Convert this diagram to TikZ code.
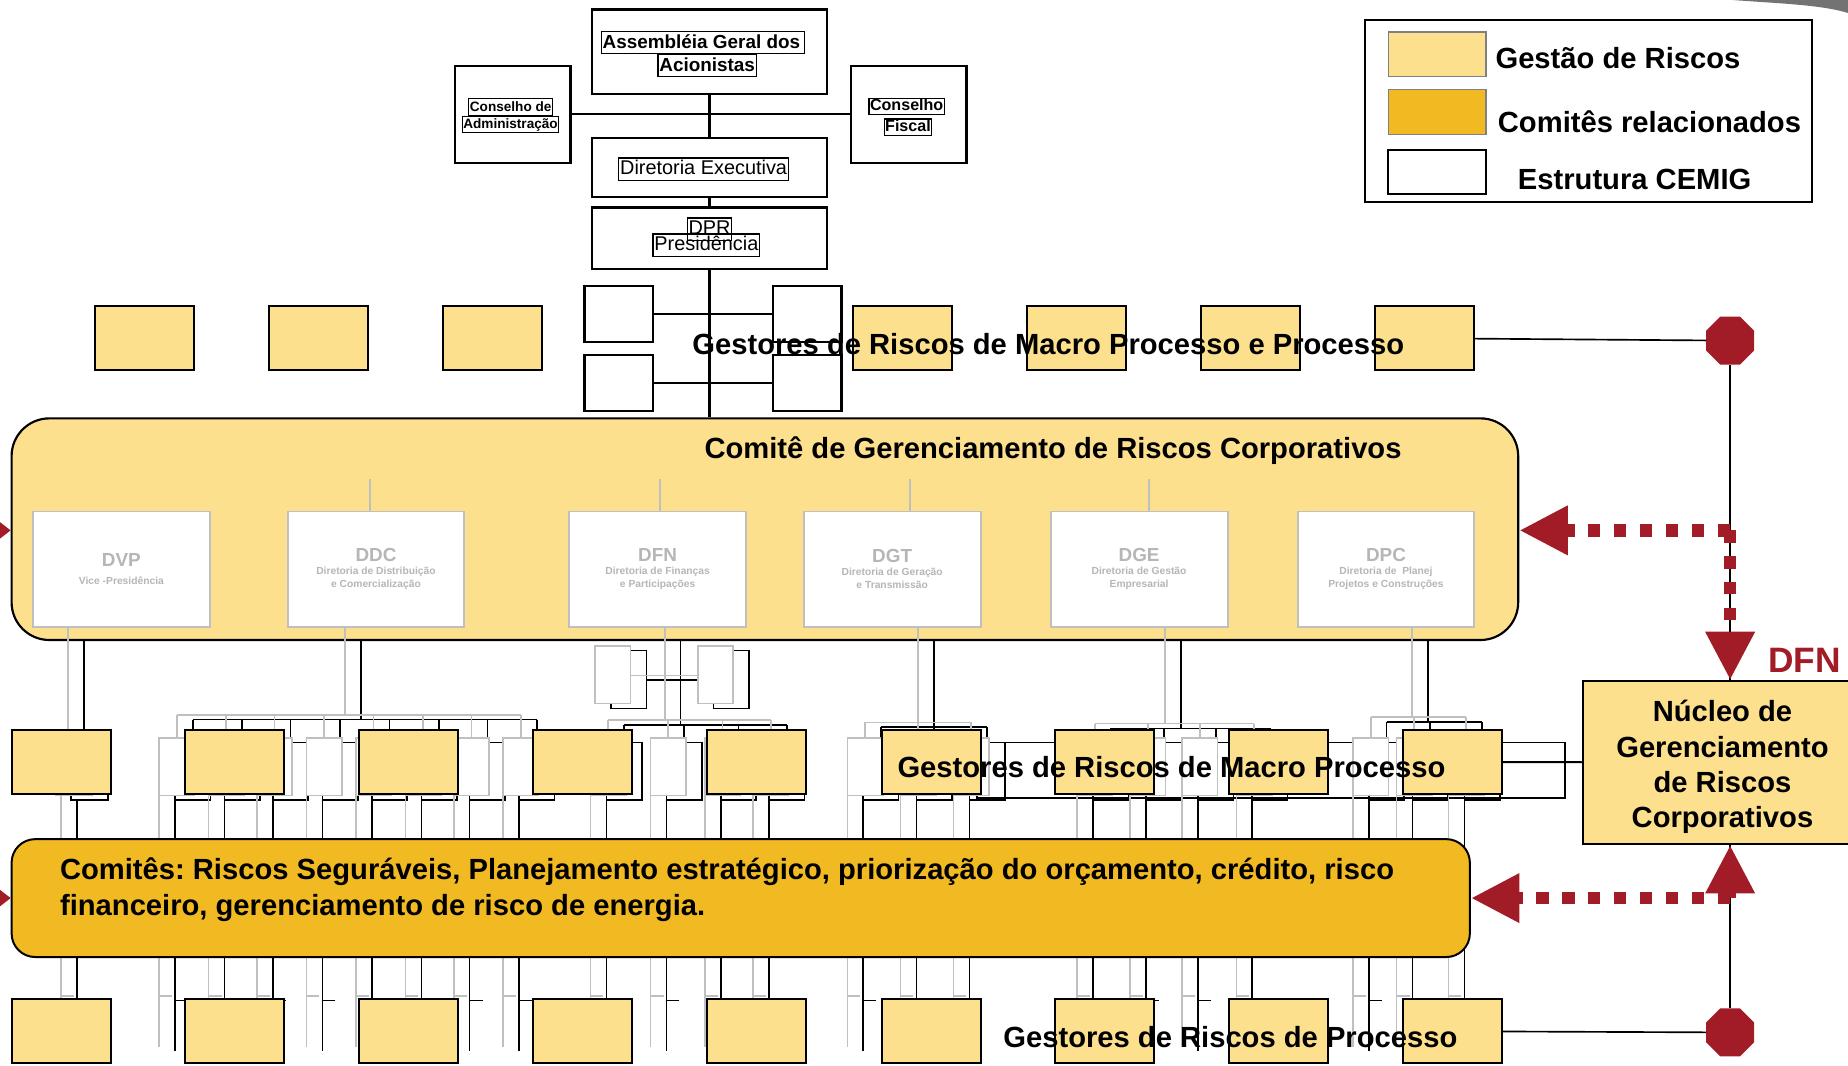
\documentclass[tikz,border=0pt]{standalone}
\usepackage{fontspec}
\setmainfont{Liberation Sans}
\usetikzlibrary{arrows.meta,positioning,shapes.geometric}

\definecolor{riskyellow}{RGB}{253,224,142}
\definecolor{comyellow}{RGB}{242,186,34}
\definecolor{ghost}{RGB}{192,192,192}
\definecolor{ghosttext}{RGB}{182,182,182}
\definecolor{dfnred}{RGB}{161,28,38}

\begin{document}
\frenchspacing
\begin{tikzpicture}[%
	x=0.025cm,y=-0.025cm,
	orgbox/.style={draw,fill=white,line width=1.3pt,inner sep=0pt},
	tagbox/.style={draw,line width=0.8pt,inner xsep=0.8pt,inner ysep=0.5pt,
		text height=9.6pt,text depth=2.8pt},
	smalltag/.style={draw,line width=0.7pt,inner xsep=0.6pt,inner ysep=0.4pt,
		text height=7pt,text depth=2pt},
	riskbox/.style={draw,fill=riskyellow,line width=1.2pt,inner sep=0pt,
		minimum width=2.1cm,minimum height=1.35cm},
	dirbox/.style={draw=ghost,fill=white,line width=1.2pt,inner sep=0pt,
		minimum width=3.75cm,minimum height=2.45cm,align=center,text=ghosttext,
		font=\fontsize{6.2pt}{7.8pt}\selectfont\bfseries},
	bigtext/.style={font=\fontsize{17.6pt}{22pt}\selectfont\bfseries},
	dfnarrow/.style={draw=dfnred,line width=7.6pt,dash pattern=on 0.26cm off 0.29cm,
		-{Triangle[length=1.03cm,width=0.98cm]}},
	ghosttree/.pic={
		% DVP
		\draw (57.7,532) -- (57.7,626);
		\draw[fill=white] (47,626) rectangle (78,675);
		% DDC
		\draw (293,532) -- (293,606.6) (150,606.6) -- (442,606.6);
		\foreach \bx in {135,177,218,260,302,344,385,427} {
			\draw (\bx+15,606.6) -- (\bx+15,626);
			\draw[fill=white] (\bx,626) rectangle ++(30,49);
		}
		% DFN
		\draw (564,532) -- (564,611) (516,611) -- (654,611) (535,573) -- (592,573);
		\draw[fill=white] (505,548) rectangle ++(30,49) (592,548) rectangle ++(30,49);
		\foreach \bx in {501,552,598,639} {
			\draw (\bx+15,611) -- (\bx+15,626);
			\draw[fill=white] (\bx,626) rectangle ++(30,49);
		}
		% DGT
		\draw (779,532) -- (779,613) (734,613) -- (824,613);
		\foreach \bx in {719,764,809} {
			\draw (\bx+15,613) -- (\bx+15,626);
			\draw[fill=white] (\bx,626) rectangle ++(30,49);
		}
		% DGE
		\draw (988.5,532) -- (988.5,614) (929,614) -- (1064,614);
		\foreach \bx in {914,959,1003,1049} {
			\draw (\bx+15,614) -- (\bx+15,626);
			\draw[fill=white] (\bx,626) rectangle ++(30,49);
		}
		% DPC
		\draw (1198,532) -- (1198,608.6) (1163,608.6) -- (1244,608.6);
		\foreach \bx in {1148,1185,1229} {
			\draw (\bx+15,608.6) -- (\bx+15,626);
			\draw[fill=white] (\bx,626) rectangle ++(30,49);
		}
		% down to the process row
		\foreach \lx in {52,135,177,218,260,302,344,385,427,501,552,598,639,
				719,764,809,914,959,1003,1049,1148,1185,1229}
			\draw (\lx,675) -- (\lx,888) (\lx,845) -- ++(11,0);
	}]

	\useasboundingbox (0,0) rectangle (1568,904);
	\fill[black!55] (1470,0) .. controls (1510,3) and (1545,4) .. (1568,11) -- (1568,0) -- cycle;

	% top of the structure
	\node[orgbox,minimum width=5cm,minimum height=1.8cm]		(agm)	at (602,44)	{};
	\node[orgbox,minimum width=2.45cm,minimum height=2.05cm]	(cadm)	at (435,97)	{};
	\node[orgbox,minimum width=2.45cm,minimum height=2.05cm]	(cfis)	at (771,97)	{};
	\node[orgbox,minimum width=5cm,minimum height=1.25cm]		(dex)	at (602,142)	{};
	\node[orgbox,minimum width=5cm,minimum height=1.3cm]		(dpr)	at (602,202)	{};

	\draw[line width=1.3pt] (cadm) -- (cfis);
	\draw[line width=1.3pt] (agm) -- (dex);
	\draw[line width=1.3pt] (dex) -- (dpr);

	\node[tagbox,font=\fontsize{11.4pt}{13pt}\selectfont\bfseries]	(agm1)	at (596.5,36)	{Assembléia Geral dos\,};
	\node[tagbox,font=\fontsize{11.4pt}{13pt}\selectfont\bfseries]	(agm2)	at (600,55.5)	{Acionistas};
	\node[smalltag,font=\fontsize{8.2pt}{9pt}\selectfont\bfseries]	(cadm1)	at (433.3,90.8)	{Conselho de};
	\node[smalltag,font=\fontsize{8.2pt}{9pt}\selectfont\bfseries]	(cadm2)	at (433.2,105.4)	{Administração};
	\node[smalltag,font=\fontsize{9.7pt}{11pt}\selectfont\bfseries]	(cfis1)	at (769.3,90.4)	{Conselho};
	\node[smalltag,font=\fontsize{9.7pt}{11pt}\selectfont\bfseries]	(cfis2)	at (770.4,107.8)	{Fiscal};
	\node[tagbox,font=\fontsize{12pt}{13pt}\selectfont]	(dex1)	at (597,143.5)	{Diretoria Executiva};
	\node[tagbox,font=\fontsize{12pt}{13pt}\selectfont]	(dpr1)	at (602,194.4)	{DPR};
	\node[tagbox,font=\fontsize{12pt}{13pt}\selectfont]	(dpr2)	at (599.4,208)	{Presidência};

	\node[orgbox,minimum width=1.45cm,minimum height=1.2cm]	(w1)	at (525,266.5)	{};
	\node[orgbox,minimum width=1.45cm,minimum height=1.2cm]	(w2)	at (525,325)	{};
	\node[orgbox,minimum width=1.45cm,minimum height=1.2cm]	(w3)	at (685,266.5)	{};
	\node[orgbox,minimum width=1.45cm,minimum height=1.2cm]	(w4)	at (685,325)	{};
	\draw[line width=1.2pt] (w1) -- (w3);
	\draw[line width=1.2pt] (w2) -- (w4);

	\foreach \n/\x in {1/122.5,2/270,3/417.5,4/766,5/913.5,6/1061,7/1208.5}
		\node[riskbox] (t\n) at (\x,287) {};

	% ghost of the org chart, black copy first
	\pic[color=black,line width=1pt] at (13.5,4) {ghosttree};

	\node[draw,fill=riskyellow,line width=1.3pt,rounded corners=0.8cm,
		minimum width=31.95cm,minimum height=4.7cm] (cgr) at (649,449) {};
	\draw[line width=1.6pt] (dpr) -- (dpr.south |- cgr.north);
	\draw[line width=1pt] (829,630) rectangle (1328,677);

	\pic[color=ghost,line width=1pt] at (0,0) {ghosttree};

	\node[dirbox] (dvp) at (103,483) {{\fontsize{11.4pt}{11pt}\selectfont DVP}\\[3pt]Vice -Presidência};
	\node[dirbox] (ddc) at (319,483) {{\fontsize{11.4pt}{11pt}\selectfont DDC}\\Diretoria de Distribuição\\e Comercialização};
	\node[dirbox] (dfn) at (558,483) {{\fontsize{11.4pt}{11pt}\selectfont DFN}\\Diretoria de Finanças\\e Participações};
	\node[dirbox] (dgt) at (757,483) {{\fontsize{11.4pt}{11pt}\selectfont DGT}\\Diretoria de Geração\\e Transmissão};
	\node[dirbox] (dge) at (966.5,483) {{\fontsize{11.4pt}{11pt}\selectfont DGE}\\Diretoria de Gestão\\Empresarial};
	\node[dirbox] (dpc) at (1176,483) {{\fontsize{11.4pt}{11pt}\selectfont DPC}\\Diretoria de\ \ Planej\\Projetos e Construções};

	\draw[ghost,line width=1pt] (ddc.north) ++(-5,0) -- ++(0,-27);
	\draw[ghost,line width=1pt] (dfn.north) ++(2,0) -- ++(0,-27);
	\draw[ghost,line width=1pt] (dgt.north) ++(15,0) -- ++(0,-27);
	\draw[ghost,line width=1pt] (dge.north) ++(8.5,0) -- ++(0,-27);

	\node[bigtext] (cgrtitle) at (893.5,382) {Comitê de Gerenciamento de Riscos Corporativos};
	\node[bigtext] (gtop) at (889.5,292) {Gestores de Riscos de Macro Processo e Processo};

	\foreach \n/\x in {1/52,2/199,3/346.5,4/494,5/642,6/790,7/937.5,8/1085,9/1232.5}
		\node[riskbox] (m\n) at (\x,646.5) {};
	\node[bigtext] (gmid) at (994,651) {Gestores de Riscos de Macro Processo};

	\node[draw,fill=comyellow,line width=1.2pt,rounded corners=0.5cm,
		minimum width=30.925cm,minimum height=2.5cm] (cmb) at (628.5,762) {};
	\node[bigtext,anchor=west,align=left] (cmbtxt) at (46,755)
		{Comitês: Riscos Seguráveis, Planejamento estratégico, priorização do orçamento, crédito, risco\\
		financeiro, gerenciamento de risco de energia.};

	\foreach \n/\x in {1/52,2/199,3/346.5,4/494,5/642,6/790,7/937.5,8/1085,9/1232.5}
		\node[riskbox] (b\n) at (\x,875) {};
	\node[bigtext] (gbot) at (1044,880) {Gestores de Riscos de Processo};

	% risk management core
	\node[draw,fill=riskyellow,line width=1.2pt,minimum width=5.925cm,minimum height=3.45cm] (nucleo) at (1461.5,647) {};
	\node[align=center,font=\fontsize{17.6pt}{21.3pt}\selectfont\bfseries] (nucleotxt) at (1461.5,651)
		{Núcleo de\\Gerenciamento\\de Riscos\\Corporativos};
	\node[regular polygon,regular polygon sides=8,fill=dfnred,minimum size=1.1cm,inner sep=0pt] (oct1) at (1468,289) {};
	\node[regular polygon,regular polygon sides=8,fill=dfnred,minimum size=1.1cm,inner sep=0pt] (oct2) at (1468,876) {};
	\coordinate (j1) at (1468,450);
	\coordinate (j2) at (1468,762);

	\draw[line width=1.2pt] (m9) -- (nucleo);
	\draw[line width=1pt] (t7) -- (oct1);
	\draw[line width=1pt] (oct1) -- (j1 |- nucleo.north);
	\draw[line width=1pt] (b9) -- (oct2);
	\draw[line width=1pt] (oct2) -- (j2 |- nucleo.south);

	\draw[dfnarrow] (j1) -- (cgr.east |- j1);
	\draw[dfnarrow] (j1) -- (j1 |- nucleo.north);
	\draw[dfnarrow] (j2) -- (cmb.east |- j2);
	\draw[dfnarrow] (j2) -- (j2 |- nucleo.south);
	\fill[dfnred] (0,443) -- (9,450) -- (0,457) -- cycle;
	\fill[dfnred] (0,755) -- (9,762) -- (0,769) -- cycle;

	\node[font=\fontsize{21.3pt}{24pt}\selectfont\bfseries,text=dfnred] (dfnlabel) at (1531,560) {DFN};

	% legend
	\node[draw,line width=1.2pt,minimum width=9.475cm,minimum height=3.85cm] (legend) at (1347.5,94) {};
	\node[draw=black!50,fill=riskyellow,line width=1pt,minimum width=2.075cm,minimum height=0.95cm] (sw1) at (1219.5,46) {};
	\node[draw=black!50,fill=comyellow,line width=1pt,minimum width=2.075cm,minimum height=0.95cm] (sw2) at (1219.5,95) {};
	\node[draw,fill=white,line width=1.2pt,minimum width=2.075cm,minimum height=0.95cm] (sw3) at (1219.5,146) {};
	\node[bigtext,anchor=west] (lg1) at (1264,49) {Gestão de Riscos};
	\node[bigtext,anchor=west] (lg2) at (1266,103) {Comitês relacionados};
	\node[bigtext,anchor=west] (lg3) at (1283,152) {Estrutura CEMIG};

\end{tikzpicture}
\end{document}
